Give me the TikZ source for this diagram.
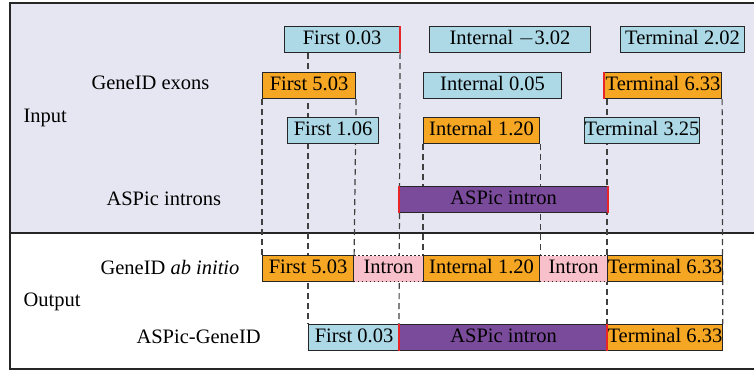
\documentclass[tikz,border=0pt]{standalone}
\usepackage{fontspec}
\setmainfont{Liberation Serif}
\usetikzlibrary{backgrounds}
\definecolor{exonblue}{HTML}{ADD8E6}
\definecolor{exonorange}{HTML}{F5A623}
\definecolor{intronpurple}{HTML}{7B4B9B}
\definecolor{intronpink}{HTML}{F8C0CB}
\definecolor{inputbg}{HTML}{E6E6F2}
\definecolor{splicered}{HTML}{E8262A}
\tikzset{
  seg/.style={draw=black!85,line width=1.1pt,inner sep=0pt,anchor=north west,
    minimum height=26pt,text height=14pt,text depth=4pt,font=\fontsize{20.5}{23}\selectfont},
  blueexon/.style={seg,fill=exonblue},
  orangeexon/.style={seg,fill=exonorange},
  aspic/.style={seg,fill=intronpurple},
  gap/.style={seg,fill=intronpink,dash pattern=on 1.3pt off 2.7pt},
  guide/.style={dash pattern=on 6pt off 4pt,line width=1.2pt,black!75},
  site/.style={splicered,line width=2.6pt},
  rowlabel/.style={anchor=west,font=\fontsize{20.5}{23}\selectfont}
}
\begin{document}
\begin{tikzpicture}[x=1pt,y=-1pt]
  \useasboundingbox (0,0) rectangle (754,370);
  %% input exons
  \node (f003) at (284,26) [blueexon,minimum width=115pt] {First 0.03};
  \node (im302) at (429,26) [blueexon,minimum width=161pt] {Internal $-$3.02};
  \node (t202) at (620,26) [blueexon,minimum width=124pt] {Terminal 2.02};
  \node (f503) at (262,72) [orangeexon,minimum width=93pt] {First 5.03};
  \node (i005) at (423,72) [blueexon,minimum width=138pt] {Internal 0.05};
  \node (t633) at (604,72) [orangeexon,minimum width=117pt] {Terminal 6.33};
  \node (f106) at (287,117) [blueexon,minimum width=91pt] {First 1.06};
  \node (i120) at (423,117) [orangeexon,minimum width=116pt] {Internal 1.20};
  \node (t325) at (584,117) [blueexon,minimum width=115pt] {Terminal 3.25};
  \node (aspic) at (399,186) [aspic,minimum width=208pt] {ASPic intron};
  %% output, GeneID ab initio
  \node (o503) at (262,255) [orangeexon,minimum width=91pt] {First 5.03};
  \node (oint1) at (353,255) [gap,minimum width=70pt] {Intron};
  \node (oi120) at (423,255) [orangeexon,minimum width=116pt] {Internal 1.20};
  \node (oint2) at (539,255) [gap,minimum width=68pt] {Intron};
  \node (o633) at (607,255) [orangeexon,minimum width=114pt] {Terminal 6.33};
  %% output, ASPic-GeneID
  \node (a003) at (308,324) [blueexon,minimum width=91pt] {First 0.03};
  \node (aint) at (399,324) [aspic,minimum width=208pt] {ASPic intron};
  \node (a633) at (607,324) [orangeexon,minimum width=114pt] {Terminal 6.33};
  %% labels
  \node (lexons) at (88,83) [rowlabel] {GeneID exons};
  \node (linput) at (20,118) [rowlabel] {Input};
  \node (lintrons) at (103,199) [rowlabel] {ASPic introns};
  \node (labinit) at (97,267) [rowlabel] {GeneID \textit{ab initio}};
  \node (loutput) at (20,302) [rowlabel] {Output};
  \node (laspic) at (133,337) [rowlabel] {ASPic-GeneID};
  %% splice sites
  \draw [site] (f003.north east) -- (f003.south east);
  \draw [site] (t633.north west) -- (t633.south west);
  \draw [site] (aspic.north west) -- (aspic.south west);
  \draw [site] (aspic.north east) -- (aspic.south east);
  \draw [site] (aint.north west) -- (aint.south west);
  \draw [site] (a633.north west) -- (a633.south west);
  %% frame and guides
  \begin{scope}[on background layer]
    \fill [inputbg] (10,3) rectangle (754,233);
    \draw [line width=1.1pt,black!85] (754,3) -- (10,3) -- (10,369) -- (754,369);
    \draw [line width=1.1pt,black!85] (10,233) -- (754,233);
    \draw [guide] (f503.south west) -- (o503.north west);
    \draw [guide] (a003.north west |- f003.south) -- (a003.north west);
    \draw [guide] (f503.south east) -- (o503.north east);
    \draw [guide] (f003.south east) -- (aint.north west);
    \draw [guide] (i120.south west) -- (oi120.north west);
    \draw [guide] (i120.south east) -- (oi120.north east);
    \draw [guide] (a633.north west |- t633.south) -- (a633.north west);
    \draw [guide] (t633.south east) -- (a633.north east);
  \end{scope}
\end{tikzpicture}
\end{document}
